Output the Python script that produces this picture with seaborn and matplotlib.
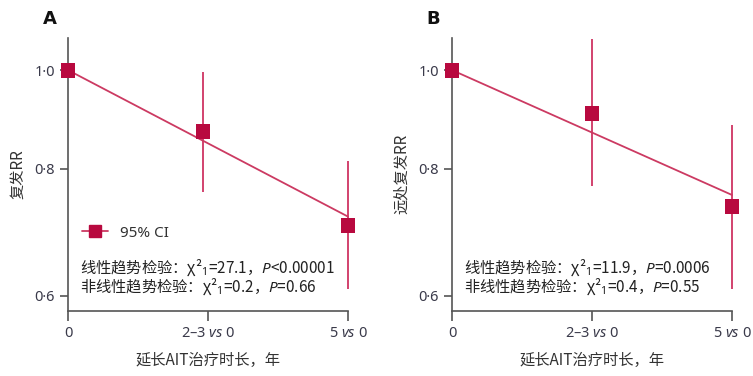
import numpy as np
import pandas as pd
import matplotlib
matplotlib.use("Agg")
import matplotlib.pyplot as plt
import seaborn as sns
from matplotlib.lines import Line2D

sns.set_style("ticks")
plt.rcParams['font.family'] = ['Noto Sans CJK SC', 'DejaVu Sans']
plt.rcParams['mathtext.fontset'] = 'custom'
plt.rcParams['mathtext.rm'] = 'Noto Sans'
plt.rcParams['mathtext.it'] = 'Noto Sans:italic'

# 数据
x_pos = [0, 2.5, 5]
x_labels = ["0", "2–3 $\\it{vs}$ 0", "5 $\\it{vs}$ 0"]

# 图A：复发
a_x = [0, 2.41, 5]
a_rr = [1.0, 0.870, 0.704]
a_lo = [1.0, 0.759, 0.610]
a_hi = [1.0, 0.995, 0.814]
a_trend = [1.0, 0.718]

# 图B：远处复发
b_x = [0, 2.5, 5]
b_rr = [1.0, 0.907, 0.734]
b_lo = [1.0, 0.770, 0.609]
b_hi = [1.0, 1.072, 0.884]
b_trend = [1.0, 0.754]

panels = [
    dict(tag="A", ylab="复发RR", x=a_x, rr=a_rr, lo=a_lo, hi=a_hi, trend=a_trend,
         txt=["线性趋势检验：χ²$_{\\rm{1}}$=27.1，$\\it{P}$<0.00001",
              "非线性趋势检验：χ²$_{\\rm{1}}$=0.2，$\\it{P}$=0.66"], legend=True),
    dict(tag="B", ylab="远处复发RR", x=b_x, rr=b_rr, lo=b_lo, hi=b_hi, trend=b_trend,
         txt=["线性趋势检验：χ²$_{\\rm{1}}$=11.9，$\\it{P}$=0.0006",
              "非线性趋势检验：χ²$_{\\rm{1}}$=0.4，$\\it{P}$=0.55"], legend=False),
]

mk_col = "#B8093F"
ln_col = "#CC3A62"
ci_col = "#D2426E"
ax_col = "#555555"

fig = plt.figure(figsize=(7.53, 3.76), dpi=100)
lefts = [68 / 753, 452 / 753]

for p, left in zip(panels, lefts):
    ax = fig.add_axes([left, 0.1729, 280 / 753, 0.7268])
    df = pd.DataFrame({"x": p["x"], "rr": p["rr"]})
    ax.set_yscale("log")
    ax.vlines(p["x"][1:], p["lo"][1:], p["hi"][1:], color=ci_col, lw=1.4, zorder=2,
              clip_on=False)
    sns.lineplot(x=[0, 5], y=p["trend"], ax=ax, color=ln_col, lw=1.3, zorder=3,
                 clip_on=False)
    sns.scatterplot(data=df, x="x", y="rr", ax=ax, marker="s", s=115,
                    color=mk_col, edgecolor="none", zorder=4, clip_on=False)
    ax.set_xlim(0, 5)
    ax.set_ylim(0.580, 1.076)
    ax.set_yticks([0.6, 0.8, 1.0])
    ax.set_yticklabels(["0·6", "0·8", "1·0"])
    ax.minorticks_off()
    ax.set_xticks(x_pos)
    ax.set_xticklabels(x_labels)
    for s in ["top", "right"]:
        ax.spines[s].set_visible(False)
    for s in ["left", "bottom"]:
        ax.spines[s].set_color(ax_col)
        ax.spines[s].set_linewidth(1.2)
    ax.tick_params(axis="both", colors=ax_col, width=1.2, length=6, labelsize=10.5,
                   labelcolor="#3a3a4a")
    ax.tick_params(axis="x", length=7, pad=4)
    for lab in ax.get_xticklabels() + ax.get_yticklabels():
        lab.set_fontfamily("Noto Sans")
    ax.set_xlabel("延长AIT治疗时长，年", fontsize=11, color="#333333", labelpad=8)
    ax.set_ylabel(p["ylab"], fontsize=11, color="#333333", labelpad=6)
    ax.text(-0.09, 1.05, p["tag"], transform=ax.transAxes, fontsize=13,
            fontweight="bold", family=["DejaVu Sans"], color="#111111")
    ax.text(0.043, 0.157, p["txt"][0], transform=ax.transAxes, fontsize=11,
            color="#222222", va="center")
    ax.text(0.043, 0.088, p["txt"][1], transform=ax.transAxes, fontsize=11,
            color="#222222", va="center")
    if p["legend"]:
        h = Line2D([], [], color=ln_col, lw=1.3, marker="s", markersize=8,
                   markerfacecolor=mk_col, markeredgecolor=mk_col)
        leg = ax.legend([h], ["95% CI"], loc="center left", bbox_to_anchor=(0.0, 0.285),
                        frameon=False, handlelength=1.7, fontsize=11)
        for t in leg.get_texts():
            t.set_fontfamily("Noto Sans")
            t.set_color("#333333")

fig.savefig("out.png", dpi=100)
